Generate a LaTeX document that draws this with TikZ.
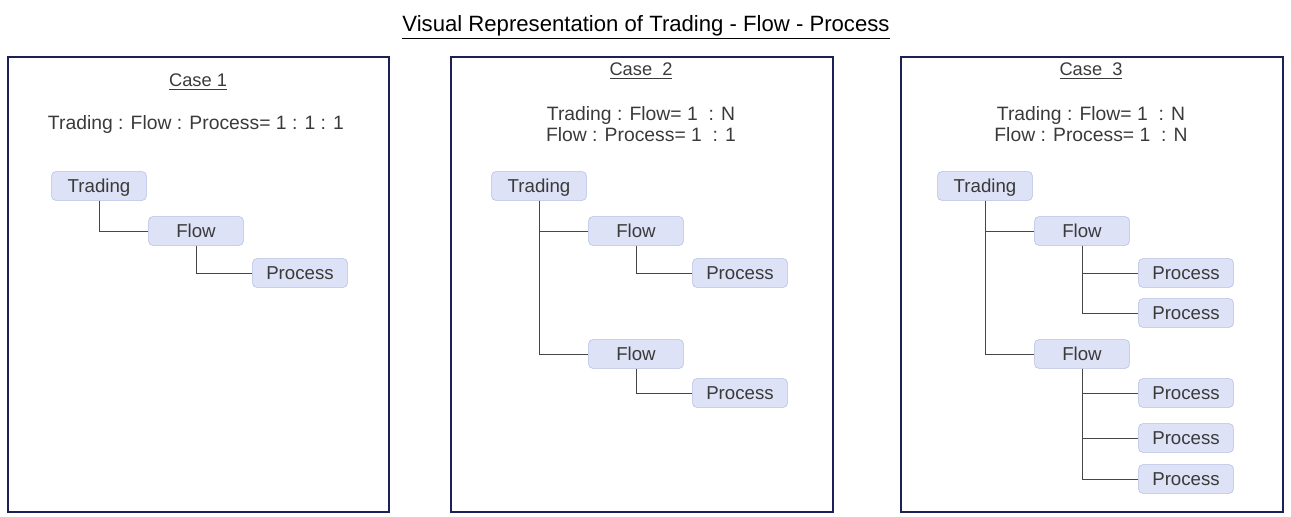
\documentclass[tikz,border=0pt]{standalone}
\usepackage{fontspec}
\setmainfont{Liberation Sans}
\definecolor{frame}{RGB}{28,32,88}
\definecolor{boxfill}{RGB}{221,226,246}
\definecolor{boxline}{RGB}{176,188,226}
\definecolor{txt}{RGB}{58,58,58}
\definecolor{wire}{RGB}{70,70,70}

\begin{document}
\begin{tikzpicture}[x=0.75pt, y=-0.75pt,
    item/.style={draw=boxline, fill=boxfill, rounded corners=3pt, minimum width=71pt,
      minimum height=21.5pt, inner sep=0pt, text height=10pt, text depth=0pt,
      text=txt, font=\fontsize{14}{16}\selectfont},
    caselabel/.style={text=txt, font=\fontsize{13.7}{16}\selectfont},
    ratio/.style={text=txt, align=center, font=\fontsize{14.5}{15.8}\selectfont},
    casebox/.style={draw=frame, line width=0.8pt},
    wire/.style={draw=wire, line width=0.7pt}]
    \useasboundingbox (0,0) rectangle (1291,517);

    % Title
    \node[text=black, font=\fontsize{16.6}{19}\selectfont] (title) at (646,27) {\underline{Visual Representation of Trading - Flow - Process}};

    % Frames
    \draw[casebox] (8,57) rectangle (389,512);
    \draw[casebox] (451,57) rectangle (833,512);
    \draw[casebox] (901,57) rectangle (1283,512);

    % Case 1
    \node[caselabel] (c1) at (198,82) {\underline{Case 1}};
    \node[ratio] (r1) at (196,125) {Trading : Flow : Process= 1 : 1 : 1};
    \node[item] (t1) at (99,186) {Trading};
    \node[item] (f1) at (196,231) {Flow};
    \node[item] (p1) at (300,273) {Process};
    \draw[wire] (t1.south) |- (f1.west);
    \draw[wire] (f1.south) |- (p1.west);

    % Case 2
    \node[caselabel] (c2) at (641,71) {\underline{Case~ 2}};
    \node[ratio] (r2) at (641,124) {Trading : Flow= 1~ : N\\Flow : Process= 1~ : 1};
    \node[item] (t2) at (539,186) {Trading};
    \node[item] (f2a) at (636,231) {Flow};
    \node[item] (f2b) at (636,354) {Flow};
    \node[item] (p2a) at (740,273) {Process};
    \node[item] (p2b) at (740,393) {Process};
    \draw[wire] (t2.south) |- (f2a.west);
    \draw[wire] (t2.south) |- (f2b.west);
    \draw[wire] (f2a.south) |- (p2a.west);
    \draw[wire] (f2b.south) |- (p2b.west);

    % Case 3
    \node[caselabel] (c3) at (1091,71) {\underline{Case~ 3}};
    \node[ratio] (r3) at (1091,124) {Trading : Flow= 1~ : N\\Flow : Process= 1~ : N};
    \node[item] (t3) at (985,186) {Trading};
    \node[item] (f3a) at (1082,231) {Flow};
    \node[item] (f3b) at (1082,354) {Flow};
    \foreach \name/\y in {p3a/273, p3b/313, p3c/393, p3d/438, p3e/479}
        \node[item] (\name) at (1186,\y) {Process};
    \draw[wire] (t3.south) |- (f3a.west);
    \draw[wire] (t3.south) |- (f3b.west);
    \foreach \name in {p3a, p3b}
        \draw[wire] (f3a.south) |- (\name.west);
    \foreach \name in {p3c, p3d, p3e}
        \draw[wire] (f3b.south) |- (\name.west);
\end{tikzpicture}
\end{document}
